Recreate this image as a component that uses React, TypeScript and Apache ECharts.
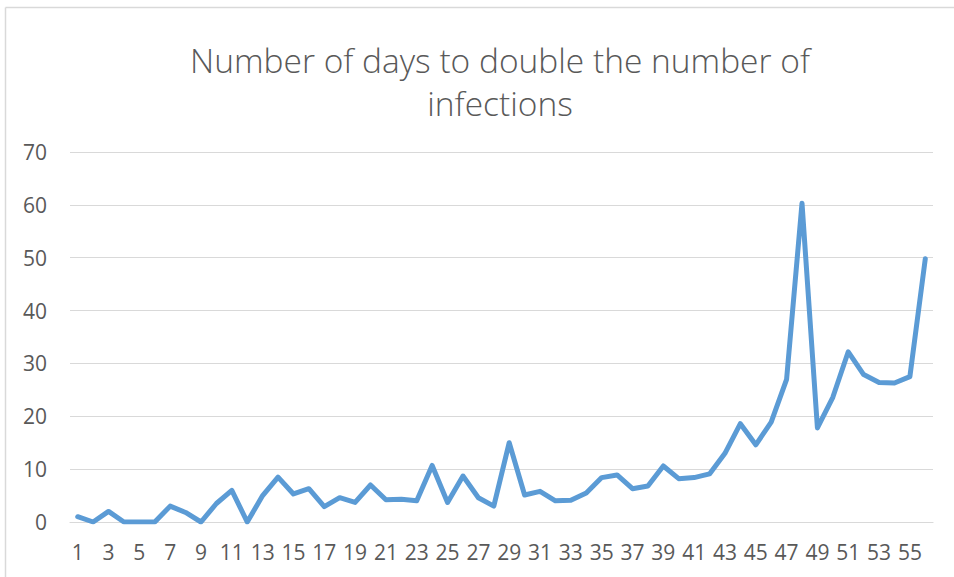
import React, { useEffect, useRef } from "react";
import * as echarts from "echarts";

const days: string[] = [
  "1","2","3","4","5","6","7","8","9","10",
  "11","12","13","14","15","16","17","18","19","20",
  "21","22","23","24","25","26","27","28","29","30",
  "31","32","33","34","35","36","37","38","39","40",
  "41","42","43","44","45","46","47","48","49","50",
  "51","52","53","54","55","56",
];

const doublingDays: number[] = [
  1, 0, 2, 0, 0, 0, 3, 1.8, 0, 3.5,
  6, 0, 5, 8.5, 5.3, 6.3, 2.9, 4.6, 3.7, 7,
  4.2, 4.3, 4, 10.7, 3.7, 8.7, 4.6, 3, 15, 5.1,
  5.8, 4, 4.1, 5.5, 8.4, 8.9, 6.3, 6.8, 10.6, 8.2,
  8.4, 9.1, 13, 18.6, 14.6, 18.9, 27, 60.3, 17.8, 23.6,
  32.2, 27.9, 26.4, 26.3, 27.5, 49.8,
];

const titleText = "Number of days to double the number of\ninfections";

export default function App() {
  const ref = useRef<HTMLDivElement>(null);

  useEffect(() => {
    if (!ref.current) return;
    const chart = echarts.init(ref.current, null, { renderer: "svg" });
    chart.setOption({
      animation: false,
      backgroundColor: "#ffffff",
      title: {
        text: titleText,
        left: 495,
        top: 33,
        textAlign: "center",
        textStyle: {
          fontFamily: "Open Sans",
          fontSize: 33.5,
          fontWeight: 300,
          color: "#595959",
          lineHeight: 43,
        },
      },
      graphic: [
        {
          type: "line",
          shape: { x1: 5.5, y1: 7.5, x2: 954, y2: 7.5 },
          style: { stroke: "#D9D9D9", lineWidth: 1.5 },
        },
        {
          type: "line",
          shape: { x1: 5.5, y1: 7.5, x2: 5.5, y2: 577 },
          style: { stroke: "#D9D9D9", lineWidth: 1.5 },
        },
      ],
      grid: { left: 70, right: 21, top: 152, bottom: 55, containLabel: false },
      xAxis: {
        type: "category",
        data: days,
        boundaryGap: true,
        axisLine: { show: true, lineStyle: { color: "#D9D9D9", width: 1.2 } },
        axisTick: { show: false },
        axisLabel: {
          interval: 1,
          margin: 19,
          fontFamily: "Open Sans",
          fontSize: 21,
          color: "#595959",
        },
        splitLine: { show: false },
      },
      yAxis: {
        type: "value",
        min: 0,
        max: 70,
        interval: 10,
        axisLine: { show: false },
        axisTick: { show: false },
        axisLabel: {
          margin: 23,
          fontFamily: "Open Sans",
          fontSize: 21,
          color: "#595959",
        },
        splitLine: { show: true, lineStyle: { color: "#D9D9D9", width: 1.2 } },
      },
      series: [
        {
          type: "line",
          data: doublingDays,
          symbol: "none",
          lineStyle: { color: "#5B9BD5", width: 5, join: "round", cap: "round" },
        },
      ],
    });
    return () => chart.dispose();
  }, []);

  return (
    <div
      ref={ref}
      style={{ position: "fixed", left: 0, top: 0, width: 954, height: 577 }}
    />
  );
}
